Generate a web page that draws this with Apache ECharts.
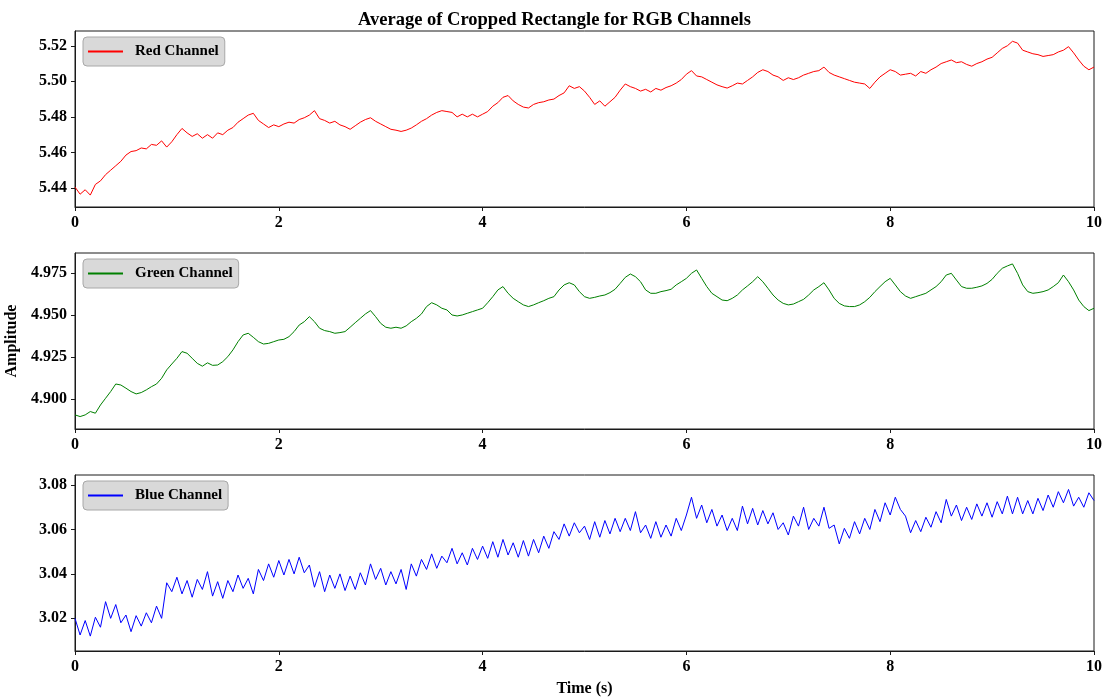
<!DOCTYPE html>
<html>
<head>
<meta charset="utf-8">
<script src="https://cdn.jsdelivr.net/npm/echarts@6/dist/echarts.min.js"></script>
<style>
html,body{margin:0;padding:0;background:#fff;}
#chart{width:1109px;height:697px;}
</style>
</head>
<body>
<div id="chart"></div>
<script>
// ---- data ----
const titleText = 'Average of Cropped Rectangle for RGB Channels';
const xLabel = 'Time (s)';
const yLabel = 'Amplitude';
const seriesNames = ['Red Channel', 'Green Channel', 'Blue Channel'];
const xTicks = [0, 2, 4, 6, 8, 10];
const redTicks = [5.44, 5.46, 5.48, 5.50, 5.52];
const greenTicks = [4.900, 4.925, 4.950, 4.975];
const blueTicks = [3.02, 3.04, 3.06, 3.08];
const sampleStep = 0.05; // seconds between plotted samples

const redValues = [
5.4405,5.4365,5.4390,5.4360,5.4420,5.4440,5.4475,5.4500,5.4525,5.4550,
5.4585,5.4605,5.4610,5.4625,5.4620,5.4645,5.4640,5.4665,5.4630,5.4660,
5.4700,5.4735,5.4710,5.4690,5.4705,5.4680,5.4700,5.4680,5.4710,5.4700,
5.4725,5.4740,5.4770,5.4790,5.4810,5.4820,5.4780,5.4760,5.4740,5.4755,
5.4745,5.4760,5.4770,5.4765,5.4785,5.4795,5.4810,5.4835,5.4790,5.4780,
5.4765,5.4775,5.4755,5.4745,5.4730,5.4750,5.4770,5.4785,5.4795,5.4775,
5.4760,5.4745,5.4730,5.4725,5.4718,5.4725,5.4737,5.4755,5.4775,5.4790,
5.4810,5.4825,5.4835,5.4830,5.4825,5.4800,5.4815,5.4800,5.4815,5.4800,
5.4815,5.4830,5.4860,5.4880,5.4910,5.4920,5.4890,5.4870,5.4855,5.4850,
5.4870,5.4880,5.4885,5.4895,5.4900,5.4920,5.4935,5.4975,5.4960,5.4970,
5.4945,5.4910,5.4870,5.4890,5.4860,5.4885,5.4910,5.4950,5.4985,5.4970,
5.4960,5.4945,5.4955,5.4940,5.4960,5.4950,5.4965,5.4975,5.4990,5.5010,
5.5040,5.5060,5.5030,5.5025,5.5010,5.4995,5.4980,5.4970,5.4962,5.4975,
5.4990,5.4985,5.5005,5.5025,5.5050,5.5065,5.5055,5.5035,5.5025,5.5005,
5.5020,5.5010,5.5020,5.5035,5.5045,5.5055,5.5060,5.5080,5.5050,5.5035,
5.5025,5.5015,5.5005,5.4995,5.4990,5.4985,5.4960,5.4995,5.5025,5.5045,
5.5065,5.5055,5.5035,5.5040,5.5045,5.5030,5.5055,5.5045,5.5065,5.5080,
5.5100,5.5110,5.5120,5.5105,5.5110,5.5095,5.5085,5.5100,5.5110,5.5125,
5.5135,5.5160,5.5185,5.5200,5.5225,5.5215,5.5175,5.5165,5.5155,5.5150,
5.5140,5.5145,5.5150,5.5165,5.5175,5.5195,5.5160,5.5120,5.5085,5.5065,
5.5080
];

const greenValues = [
4.8905,4.8895,4.8905,4.8925,4.8915,4.8964,4.9004,4.9044,4.9089,4.9083,
4.9064,4.9044,4.9030,4.9038,4.9054,4.9073,4.9089,4.9123,4.9173,4.9208,
4.9242,4.9282,4.9272,4.9242,4.9212,4.9195,4.9215,4.9200,4.9202,4.9222,
4.9252,4.9292,4.9341,4.9381,4.9391,4.9367,4.9341,4.9327,4.9331,4.9341,
4.9351,4.9355,4.9371,4.9401,4.9440,4.9460,4.9490,4.9460,4.9421,4.9407,
4.9401,4.9391,4.9395,4.9401,4.9427,4.9454,4.9480,4.9506,4.9526,4.9490,
4.9450,4.9427,4.9421,4.9427,4.9421,4.9435,4.9460,4.9480,4.9506,4.9550,
4.9573,4.9560,4.9540,4.9530,4.9500,4.9494,4.9500,4.9510,4.9520,4.9530,
4.9540,4.9573,4.9609,4.9649,4.9669,4.9629,4.9599,4.9579,4.9560,4.9550,
4.9560,4.9573,4.9585,4.9599,4.9609,4.9649,4.9679,4.9692,4.9679,4.9639,
4.9609,4.9599,4.9605,4.9613,4.9619,4.9633,4.9653,4.9688,4.9724,4.9744,
4.9728,4.9698,4.9649,4.9629,4.9629,4.9639,4.9645,4.9653,4.9679,4.9698,
4.9718,4.9748,4.9768,4.9718,4.9669,4.9629,4.9609,4.9589,4.9585,4.9599,
4.9619,4.9649,4.9673,4.9698,4.9728,4.9698,4.9659,4.9619,4.9589,4.9569,
4.9560,4.9565,4.9579,4.9593,4.9619,4.9649,4.9669,4.9692,4.9649,4.9599,
4.9569,4.9554,4.9550,4.9550,4.9560,4.9579,4.9605,4.9639,4.9669,4.9698,
4.9718,4.9679,4.9639,4.9613,4.9599,4.9609,4.9619,4.9629,4.9649,4.9669,
4.9698,4.9738,4.9748,4.9708,4.9669,4.9659,4.9659,4.9665,4.9673,4.9688,
4.9712,4.9748,4.9778,4.9792,4.9804,4.9748,4.9679,4.9639,4.9629,4.9633,
4.9639,4.9649,4.9669,4.9692,4.9738,4.9698,4.9649,4.9589,4.9550,4.9526,
4.9540
];

const blueValues = [
3.0200,3.0125,3.0190,3.0120,3.0205,3.0160,3.0275,3.0200,3.0262,3.0180,
3.0215,3.0140,3.0212,3.0165,3.0225,3.0180,3.0255,3.0200,3.0360,3.0320,
3.0385,3.0310,3.0370,3.0295,3.0375,3.0330,3.0410,3.0300,3.0365,3.0290,
3.0370,3.0320,3.0395,3.0335,3.0380,3.0310,3.0420,3.0370,3.0445,3.0385,
3.0460,3.0395,3.0465,3.0400,3.0475,3.0405,3.0440,3.0340,3.0410,3.0320,
3.0395,3.0335,3.0400,3.0325,3.0390,3.0330,3.0405,3.0350,3.0445,3.0375,
3.0425,3.0350,3.0410,3.0355,3.0420,3.0330,3.0445,3.0390,3.0465,3.0420,
3.0490,3.0425,3.0480,3.0450,3.0515,3.0445,3.0495,3.0440,3.0515,3.0465,
3.0525,3.0470,3.0545,3.0475,3.0555,3.0485,3.0540,3.0475,3.0550,3.0480,
3.0555,3.0495,3.0570,3.0515,3.0590,3.0555,3.0625,3.0570,3.0630,3.0585,
3.0615,3.0555,3.0635,3.0565,3.0640,3.0580,3.0650,3.0590,3.0650,3.0595,
3.0680,3.0585,3.0620,3.0560,3.0635,3.0565,3.0620,3.0570,3.0650,3.0595,
3.0665,3.0745,3.0650,3.0710,3.0630,3.0690,3.0615,3.0665,3.0595,3.0650,
3.0595,3.0705,3.0625,3.0695,3.0620,3.0685,3.0625,3.0675,3.0600,3.0630,
3.0575,3.0660,3.0615,3.0700,3.0600,3.0650,3.0615,3.0700,3.0605,3.0620,
3.0535,3.0605,3.0560,3.0635,3.0580,3.0650,3.0600,3.0690,3.0635,3.0720,
3.0665,3.0745,3.0690,3.0660,3.0585,3.0640,3.0590,3.0655,3.0610,3.0680,
3.0630,3.0735,3.0660,3.0710,3.0640,3.0700,3.0645,3.0715,3.0660,3.0720,
3.0655,3.0725,3.0670,3.0750,3.0670,3.0745,3.0670,3.0730,3.0670,3.0740,
3.0685,3.0755,3.0700,3.0770,3.0720,3.0780,3.0705,3.0745,3.0700,3.0765,
3.0730
];

const redRange = [5.4293, 5.5283];
const greenRange = [4.8821, 4.9869];
const blueRange = [3.0053, 3.0845];

// ---- chart ----
function toPairs(vals){ return vals.map((v,i)=>[+(i*sampleStep).toFixed(2), v]); }

const FONT = "'Liberation Serif','Times New Roman',serif";
const gridTops = [31, 253, 475];
const gridH = 176;
const colors = ['#ff0000', '#008000', '#0000ff'];
const ranges = [redRange, greenRange, blueRange];
const ticks = [redTicks, greenTicks, blueTicks];
const decimals = [2, 3, 2];
const values = [redValues, greenValues, blueValues];

const grids = gridTops.map(t => ({
  left: 75, right: 15, top: t, height: gridH,
  outerBoundsMode: 'none', containLabel: false,
  show: true, borderColor: '#1a1a1a', borderWidth: 1, backgroundColor: 'transparent'
}));

const labelStyle = { fontFamily: FONT, fontWeight: 'bold', fontSize: 16, color: '#000' };

const xAxes = gridTops.map((t, i) => ({
  type: 'value', gridIndex: i, min: 0, max: 10, interval: 2,
  axisLine: { show: true, lineStyle: { color: '#1a1a1a', width: 1 } },
  axisTick: { show: true, inside: false, length: 4, lineStyle: { color: '#1a1a1a' } },
  axisLabel: Object.assign({ margin: 8, formatter: v => String(v),
    customValues: xTicks }, labelStyle),
  splitLine: { show: false },
  name: i === 2 ? xLabel : '',
  nameLocation: 'middle', nameGap: 30,
  nameTextStyle: labelStyle
}));

const yAxes = gridTops.map((t, i) => ({
  type: 'value', gridIndex: i, min: ranges[i][0], max: ranges[i][1],
  axisLine: { show: true, lineStyle: { color: '#1a1a1a', width: 1 } },
  axisTick: { show: true, inside: false, length: 4, lineStyle: { color: '#1a1a1a' },
    customValues: ticks[i] },
  axisLabel: Object.assign({ margin: 8, customValues: ticks[i],
    formatter: v => Number(v).toFixed(decimals[i]) }, labelStyle),
  splitLine: { show: false },
  name: i === 1 ? yLabel : '',
  nameLocation: 'middle', nameGap: 47, nameRotate: 90,
  nameTextStyle: labelStyle
}));

const series = values.map((vals, i) => ({
  name: seriesNames[i], type: 'line', xAxisIndex: i, yAxisIndex: i,
  data: toPairs(vals), showSymbol: false, symbol: 'none', sampling: 'none',
  lineStyle: { color: colors[i], width: 1 }, itemStyle: { color: colors[i] },
  animation: false, silent: true
}));

const legends = gridTops.map((t, i) => ({
  data: [seriesNames[i]], left: 83, top: t + 6, orient: 'horizontal',
  backgroundColor: '#d9d9d9', borderColor: '#a8a8a8', borderWidth: 1, borderRadius: 4,
  padding: [7, 6, 7, 5], itemWidth: 35, itemHeight: 2, icon: 'rect',
  selectedMode: false,
  textStyle: Object.assign({ padding: [0, 0, 0, 7] }, labelStyle, { fontSize: 15 })
}));

const chart = echarts.init(document.getElementById('chart'), null, { renderer: 'canvas' });
chart.setOption({
  animation: false,
  backgroundColor: '#ffffff',
  title: { text: titleText, left: 'center', top: 6,
    textStyle: { fontFamily: FONT, fontWeight: 'bold', fontSize: 18.5, color: '#000' } },
  grid: grids, xAxis: xAxes, yAxis: yAxes, legend: legends, series: series
});
</script>
</body>
</html>
